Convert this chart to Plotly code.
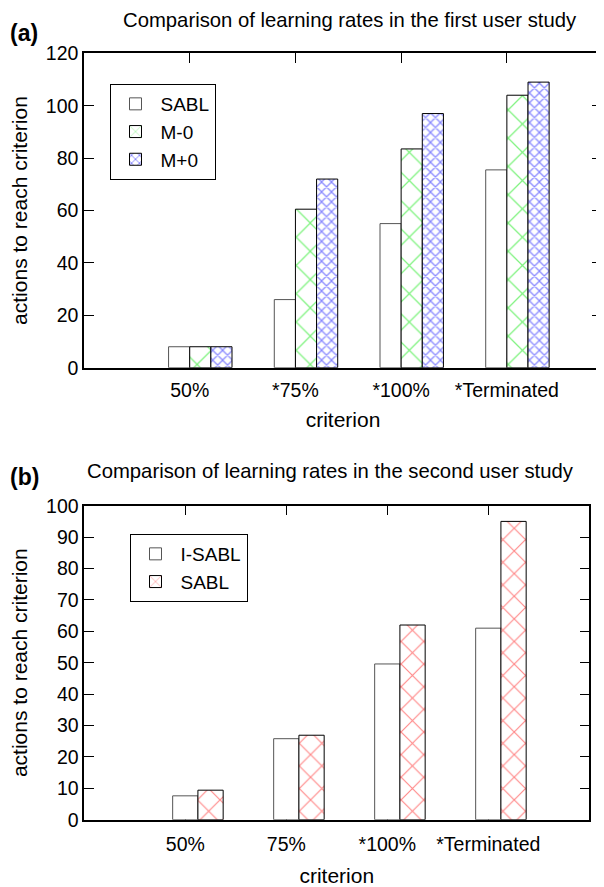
import plotly.graph_objects as go

# page is offset by the default 8px body margin; figure sized to fit the window
OFF = 8
W, H = 604 - OFF, 887 - OFF

# ---------------- data ----------------
cats_a = ["50%", "*75%", "*100%", "*Terminated"]
sabl_a = [8, 26, 55, 75.5]
m0_a = [8, 60.5, 83.5, 104]
mp0_a = [8, 72, 97, 109]

cats_b = ["50%", "75%", "*100%", "*Terminated"]
isabl_b = [7.6, 25.8, 49.6, 61]
sabl_b = [9.4, 26.9, 62, 95]

yticks_a = [0, 20, 40, 60, 80, 100, 120]
yticks_b = [0, 10, 20, 30, 40, 50, 60, 70, 80, 90, 100]

title_a = "Comparison of learning rates in the first user study"
title_b = "Comparison of learning rates in the second user study"

FONT = "Liberation Sans, Arial, Helvetica, sans-serif"


def px_x(v):
    return max(0.0, min(1.0, (v - OFF) / W))


def px_y(v):
    return max(0.0, min(1.0, 1 - (v - OFF) / H))


fig = go.Figure()

# ---- chart (a) ----
fig.add_trace(go.Bar(
    x=cats_a, y=sabl_a, name="SABL", offset=-0.2, width=0.2,
    marker=dict(color="white", line=dict(color="#555555", width=1)),
    xaxis="x", yaxis="y", legend="legend"))
fig.add_trace(go.Bar(
    x=cats_a, y=m0_a, name="M-0", offset=0.0, width=0.2,
    marker=dict(color="white", line=dict(color="black", width=1),
                pattern=dict(shape="x", fgcolor="#00e600", bgcolor="white",
                             size=20, solidity=0.12, fillmode="overlay")),
    xaxis="x", yaxis="y", legend="legend"))
fig.add_trace(go.Bar(
    x=cats_a, y=mp0_a, name="M+0", offset=0.2, width=0.2,
    marker=dict(color="white", line=dict(color="black", width=1),
                pattern=dict(shape="x", fgcolor="#1111ff", bgcolor="white",
                             size=7, solidity=0.32, fillmode="overlay")),
    xaxis="x", yaxis="y", legend="legend"))

# ---- chart (b) ----
fig.add_trace(go.Bar(
    x=cats_b, y=isabl_b, name="I-SABL", offset=-0.125, width=0.25,
    marker=dict(color="white", line=dict(color="#555555", width=1)),
    xaxis="x2", yaxis="y2", legend="legend2"))
fig.add_trace(go.Bar(
    x=cats_b, y=sabl_b, name="SABL", offset=0.125, width=0.25,
    marker=dict(color="white", line=dict(color="black", width=1),
                pattern=dict(shape="x", fgcolor="#ff1111", bgcolor="white",
                             size=16, solidity=0.14, fillmode="overlay")),
    xaxis="x2", yaxis="y2", legend="legend2"))

axis_common = dict(
    showline=True, linecolor="black", linewidth=1.5, mirror="ticks",
    ticks="inside", ticklen=10, tickcolor="black", tickwidth=1,
    showgrid=False, zeroline=False, layer="below traces", automargin=False,
    tickfont=dict(family=FONT, size=19.5, color="black"),
)

fig.update_layout(
    width=W, height=H,
    margin=dict(l=0, r=0, t=0, b=0, autoexpand=False),
    paper_bgcolor="white", plot_bgcolor="white",
    barmode="overlay",
    font=dict(family=FONT, color="black"),
    xaxis=dict(axis_common, domain=[px_x(84), px_x(602)], range=[-1, 3.9],
               type="category", categoryorder="array", categoryarray=cats_a,
               anchor="y", ticklabelstandoff=4,
               title=dict(text="criterion", font=dict(family=FONT, size=21),
                          standoff=12)),
    yaxis=dict(axis_common, domain=[px_y(367.7), px_y(53.3)], range=[0, 120],
               tickvals=yticks_a, anchor="x",
               title=dict(text="actions to reach criterion",
                          font=dict(family=FONT, size=21), standoff=14)),
    xaxis2=dict(axis_common, domain=[px_x(84.3), px_x(589.3)], range=[-1, 4],
                type="category", categoryorder="array", categoryarray=cats_b,
                anchor="y2", ticklabelstandoff=6,
                title=dict(text="criterion", font=dict(family=FONT, size=21),
                           standoff=15)),
    yaxis2=dict(axis_common, domain=[px_y(819.7), px_y(505.7)], range=[0, 100],
                tickvals=yticks_b, anchor="x2",
                title=dict(text="actions to reach criterion",
                           font=dict(family=FONT, size=21), standoff=14)),
    legend=dict(x=px_x(109.5), y=px_y(84), xanchor="left", yanchor="top",
                bordercolor="black", borderwidth=1, bgcolor="white",
                font=dict(family=FONT, size=19), traceorder="normal",
                itemwidth=40),
    legend2=dict(x=px_x(129.5), y=px_y(534), xanchor="left", yanchor="top",
                 bordercolor="black", borderwidth=1, bgcolor="white",
                 font=dict(family=FONT, size=19), traceorder="normal",
                 itemwidth=40),
    annotations=[
        dict(text=title_a, xref="paper", yref="paper", x=px_x(349.5), y=1.0,
             xanchor="center", yanchor="top", showarrow=False, borderpad=0,
             font=dict(family=FONT, size=20.3)),
        dict(text=title_b, xref="paper", yref="paper", x=px_x(330), y=px_y(471),
             xanchor="center", yanchor="middle", showarrow=False,
             font=dict(family=FONT, size=20.3)),
        dict(text="<b>(a)</b>", xref="paper", yref="paper", x=px_x(8), y=px_y(33),
             xanchor="left", yanchor="middle", showarrow=False,
             font=dict(family=FONT, size=23)),
        dict(text="<b>(b)</b>", xref="paper", yref="paper", x=px_x(8), y=px_y(477),
             xanchor="left", yanchor="middle", showarrow=False,
             font=dict(family=FONT, size=23)),
    ],
)

fig.write_html("out.html")
